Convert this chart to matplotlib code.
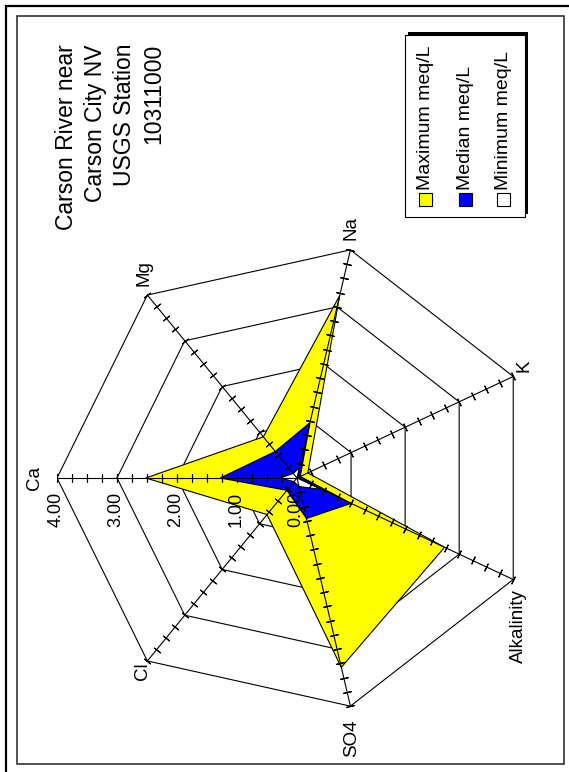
import numpy as np
import matplotlib
matplotlib.use("Agg")
import matplotlib.pyplot as plt
from matplotlib.patches import Rectangle

plt.rcParams['font.family'] = ['Liberation Sans', 'DejaVu Sans']

# station data, meq/L
categories = ['Ca', 'Mg', 'Na', 'K', 'Alkalinity', 'SO4', 'Cl']
maximum = [2.52, 0.90, 3.20, 0.20, 2.73, 3.32, 0.80]
median = [1.28, 0.58, 0.97, 0.06, 1.00, 0.71, 0.27]
minimum = [0.28, 0.10, 0.18, 0.02, 0.45, 0.15, 0.08]
rings = [1.0, 2.0, 3.0, 4.0]
ring_labels = ['0.00', '1.00', '2.00', '3.00', '4.00']
series_names = ['Maximum meq/L', 'Median meq/L', 'Minimum meq/L']
series_colors = ['#ffff00', '#0000ff', '#ffffff']
title = "Carson River near\nCarson City NV\nUSGS Station\n10311000"

W, H = 569, 772
fig = plt.figure(figsize=(W / 100, H / 100), dpi=100)


def fx(x):
    return x / W


def fy(y):
    return 1 - y / H


# radar drawn rotated: Ca points left, spokes go clockwise
n = len(categories)
phi = np.pi - 2 * np.pi * np.arange(n) / n


def to_xy(vals):
    vals = np.asarray(vals, dtype=float)
    return vals * np.cos(phi), vals * np.sin(phi)


ax = fig.add_axes([fx(57), fy(478 + 234), 480 / W, 468 / H])
ax.set_xlim(-4, 4)
ax.set_ylim(-4, 4)
ax.axis('off')

# heptagon rings
for r in rings:
    x, y = to_xy([r] * n)
    ax.plot(np.append(x, x[0]), np.append(y, y[0]), color='black', lw=0.8, zorder=1)

# filled series
for vals, col in zip([maximum, median, minimum], series_colors):
    x, y = to_xy(vals)
    ax.fill(x, y, facecolor=col, edgecolor='black', lw=0.8, zorder=2)

# spokes with tick marks every 0.25
steps = np.arange(0.25, 4.01, 0.25)
for k in range(n):
    ax.plot([0, 4 * np.cos(phi[k])], [0, 4 * np.sin(phi[k])], color='black', lw=0.8, zorder=5)
    ax.plot(steps * np.cos(phi[k]), steps * np.sin(phi[k]), linestyle='none',
            marker=(2, 2, np.degrees(phi[k])), ms=6, mew=0.8, color='black', zorder=6)

# scale labels along the Ca spoke
for i, lab in enumerate(ring_labels):
    ax.annotate(lab, (-float(i), 0), xytext=(-1, -14), textcoords='offset pixels',
                rotation=90, ha='center', va='top', fontsize=13, zorder=7)

# category labels
label_offsets = {
    'Ca': ((-14, 0), 'right', 'center'),
    'Mg': ((-3, 9), 'center', 'bottom'),
    'Na': ((1, 10), 'center', 'bottom'),
    'K': ((2, 4), 'left', 'bottom'),
    'Alkalinity': ((5, -10), 'center', 'top'),
    'SO4': ((1, -13), 'center', 'top'),
    'Cl': ((-5, -1), 'center', 'top'),
}
for k, name in enumerate(categories):
    off, ha, va = label_offsets[name]
    ax.annotate(name, (4 * np.cos(phi[k]), 4 * np.sin(phi[k])), xytext=off,
                textcoords='offset pixels', rotation=90, ha=ha, va=va, fontsize=13.5)

# title block
fig.text(fx(110), fy(44), title, rotation=90, ha='center', va='top',
         multialignment='right', fontsize=16.5, linespacing=1.33)

# legend box with shadow
fig.add_artist(Rectangle((fx(408), fy(214)), fx(120), 182 / H, transform=fig.transFigure,
                         facecolor='black', edgecolor='black', lw=0))
fig.add_artist(Rectangle((fx(405), fy(217)), fx(120), 182 / H, transform=fig.transFigure,
                         facecolor='white', edgecolor='black', lw=0.8))
for cx, name, col in zip([425.5, 465.5, 503.5], series_names, series_colors):
    fig.add_artist(Rectangle((fx(cx - 6.5), fy(206)), fx(13), 13 / H, transform=fig.transFigure,
                             facecolor=col, edgecolor='black', lw=0.8))
    fig.text(fx(cx), fy(190), name, rotation=90, ha='center', va='bottom', fontsize=14)

# page frames
fig.add_artist(Rectangle((fx(6), fy(800)), fx(600), 794 / H, transform=fig.transFigure,
                         facecolor='none', edgecolor='black', lw=1.6))
fig.add_artist(Rectangle((fx(16.5), fy(764)), fx(547.5), 748.5 / H, transform=fig.transFigure,
                         facecolor='none', edgecolor='#333333', lw=1.2))

fig.savefig('out.png', dpi=100)
